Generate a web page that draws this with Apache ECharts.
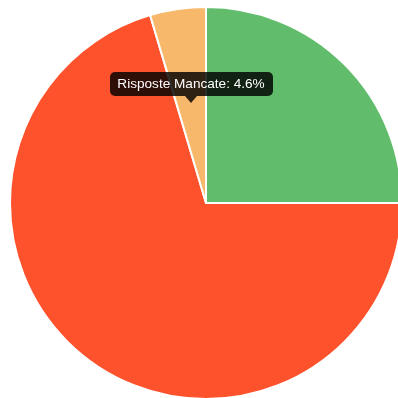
<!DOCTYPE html>
<html>
<head>
<meta charset="utf-8">
<script src="https://cdn.jsdelivr.net/npm/echarts@6/dist/echarts.min.js"></script>
<style>
html,body{margin:0;padding:0;background:#fff;}
#torta{width:398px;height:398px;}
</style>
</head>
<body>
<div id="torta"></div>
<script>
// risposte del test (percentuali)
var nomi = ['Risposte Corrette', 'Risposte Errate', 'Risposte Mancate'];
var valori = [25.0, 70.4, 4.6];
var colori = ['#61bd6c', '#fe522d', '#f8b86b'];

var torta = echarts.init(document.getElementById('torta'));
var dati = [];
for (i = 0; i < nomi.length; i++) {
    dati.push({value: valori[i], name: nomi[i], itemStyle: {color: colori[i]}});
}
// tooltip fisso sulla fetta "Mancate"
var tip = nomi[2] + ': ' + valori[2] + '%';

option = {
    animation: false,
    series: [
        {
            type: 'pie',
            center: [206, 203],
            radius: [0, 196],
            startAngle: 90,
            clockwise: true,
            label: {show: false},
            labelLine: {show: false},
            itemStyle: {borderColor: '#fff', borderWidth: 2},
            data: dati
        }
    ],
    graphic: [
        {
            type: 'group',
            left: 110,
            top: 72,
            z: 100,
            children: [
                {
                    type: 'rect',
                    z: 100,
                    shape: {x: 0, y: 0, width: 163, height: 24, r: 5},
                    style: {fill: 'rgba(0,0,0,0.82)'}
                },
                {
                    type: 'polygon',
                    z: 100,
                    shape: {points: [[75, 24], [87, 24], [81, 31]]},
                    style: {fill: 'rgba(0,0,0,0.82)'}
                },
                {
                    type: 'text',
                    z: 101,
                    x: 81,
                    y: 12,
                    style: {
                        text: tip,
                        fill: '#fff',
                        font: '13.6px "Liberation Sans", Arial, sans-serif',
                        align: 'center',
                        verticalAlign: 'middle'
                    }
                }
            ]
        }
    ]
};
torta.setOption(option);
</script>
</body>
</html>
